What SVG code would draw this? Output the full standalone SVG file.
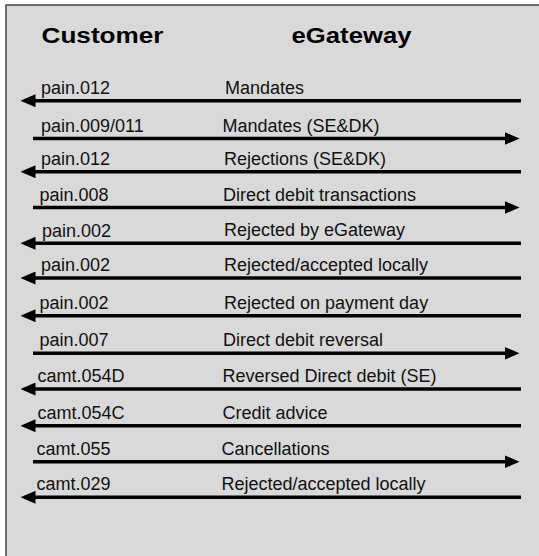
<svg xmlns="http://www.w3.org/2000/svg" width="539" height="556" viewBox="0 0 539 556">
  <style>
    .frame { fill: #d9d9d9; stroke: #444444; stroke-width: 1.5; }
    .title { font-family: "Liberation Sans", Arial, sans-serif; font-size: 22px; font-weight: bold; fill: #000000; }
    .lbl { font-family: "Liberation Sans", Arial, sans-serif; font-size: 18px; fill: #111111; }
    .msg { stroke: #000000; stroke-width: 3.5; fill: none; marker-end: url(#arrow); }
  </style>
  <defs>
    <marker id="arrow" viewBox="0 0 15 13" refX="0.5" refY="6.5" markerWidth="15" markerHeight="13" markerUnits="userSpaceOnUse" orient="auto">
      <path d="M0,0 L15,6.5 L0,13 Z" fill="#000000"/>
    </marker>
  </defs>
  <rect width="539" height="556" fill="#ffffff"/>
  <g id="frame">
    <rect class="frame" x="6" y="5" width="545" height="565"/>
  </g>
  <g id="customer">
    <text class="title" x="41.5" y="42.5" textLength="122" lengthAdjust="spacingAndGlyphs">Customer</text>
  </g>
  <g id="egateway">
    <text class="title" x="291.5" y="42.5" textLength="120" lengthAdjust="spacingAndGlyphs">eGateway</text>
  </g>
  <g id="connectors">
    <line class="msg" x1="521" y1="100.7" x2="35" y2="100.7"/>
    <line class="msg" x1="33" y1="138.5" x2="505" y2="138.5"/>
    <line class="msg" x1="521" y1="171.7" x2="35" y2="171.7"/>
    <line class="msg" x1="33" y1="207.5" x2="505" y2="207.5"/>
    <line class="msg" x1="521" y1="243.3" x2="35" y2="243.3"/>
    <line class="msg" x1="521" y1="278" x2="35" y2="278"/>
    <line class="msg" x1="521" y1="315.7" x2="35" y2="315.7"/>
    <line class="msg" x1="33" y1="353.3" x2="505" y2="353.3"/>
    <line class="msg" x1="521" y1="389" x2="35" y2="389"/>
    <line class="msg" x1="521" y1="425.7" x2="35" y2="425.7"/>
    <line class="msg" x1="33" y1="461.7" x2="505" y2="461.7"/>
    <line class="msg" x1="521" y1="497.3" x2="35" y2="497.3"/>
  </g>
  <g id="labels">
    <text class="lbl" x="41" y="93.5">pain.012</text>
    <text class="lbl" x="225" y="93.5">Mandates</text>
    <text class="lbl" x="41" y="131.5">pain.009/011</text>
    <text class="lbl" x="222.5" y="131.5">Mandates (SE&amp;DK)</text>
    <text class="lbl" x="41" y="164.7">pain.012</text>
    <text class="lbl" x="224" y="164.7">Rejections (SE&amp;DK)</text>
    <text class="lbl" x="39.5" y="201">pain.008</text>
    <text class="lbl" x="223" y="201">Direct debit transactions</text>
    <text class="lbl" x="42" y="236.5">pain.002</text>
    <text class="lbl" x="224" y="236">Rejected by eGateway</text>
    <text class="lbl" x="41" y="271">pain.002</text>
    <text class="lbl" x="224" y="271">Rejected/accepted locally</text>
    <text class="lbl" x="39.5" y="308.5">pain.002</text>
    <text class="lbl" x="224" y="308.5">Rejected on payment day</text>
    <text class="lbl" x="39.5" y="346">pain.007</text>
    <text class="lbl" x="223" y="346">Direct debit reversal</text>
    <text class="lbl" x="37.5" y="382">camt.054D</text>
    <text class="lbl" x="222.5" y="382">Reversed Direct debit (SE)</text>
    <text class="lbl" x="37.5" y="418.5">camt.054C</text>
    <text class="lbl" x="222.5" y="418.5">Credit advice</text>
    <text class="lbl" x="36.5" y="454.5">camt.055</text>
    <text class="lbl" x="221.5" y="454.5">Cancellations</text>
    <text class="lbl" x="36.5" y="490">camt.029</text>
    <text class="lbl" x="221.5" y="490">Rejected/accepted locally</text>
  </g>
</svg>
